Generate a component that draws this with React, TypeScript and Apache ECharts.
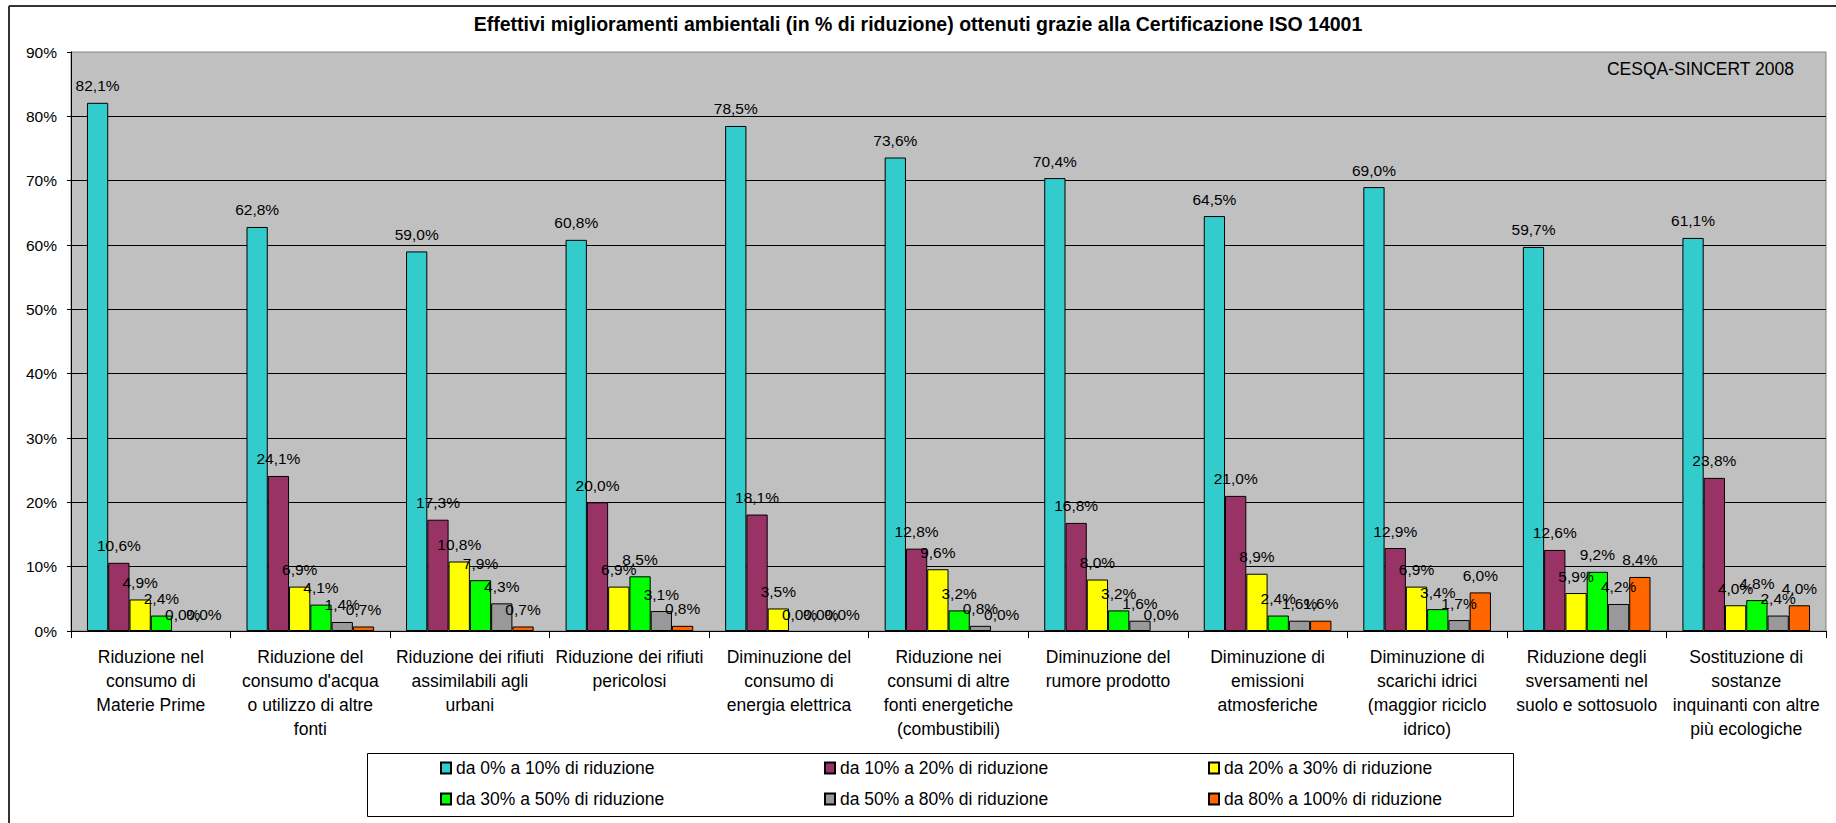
import React, { useEffect, useRef } from 'react';
import * as echarts from 'echarts';

const FONT = '"Liberation Sans", Arial, Helvetica, sans-serif';

const titleText =
  'Effettivi miglioramenti ambientali (in % di riduzione) ottenuti grazie alla Certificazione ISO 14001';
const sourceText = 'CESQA-SINCERT 2008';

const categories = [
  'Riduzione nel\nconsumo di\nMaterie Prime',
  "Riduzione del\nconsumo d'acqua\no utilizzo di altre\nfonti",
  'Riduzione dei rifiuti\nassimilabili agli\nurbani',
  'Riduzione dei rifiuti\npericolosi',
  'Diminuzione del\nconsumo di\nenergia elettrica',
  'Riduzione nei\nconsumi di altre\nfonti energetiche\n(combustibili)',
  'Diminuzione del\nrumore prodotto',
  'Diminuzione di\nemissioni\natmosferiche',
  'Diminuzione di\nscarichi idrici\n(maggior riciclo\nidrico)',
  'Riduzione degli\nsversamenti nel\nsuolo e sottosuolo',
  'Sostituzione di\nsostanze\ninquinanti con altre\npiù ecologiche',
];

const seriesNames = [
  'da 0% a 10% di riduzione',
  'da 10% a 20% di riduzione',
  'da 20% a 30% di riduzione',
  'da 30% a 50% di riduzione',
  'da 50% a 80% di riduzione',
  'da 80% a 100% di riduzione',
];

const rid0to10 = [82.1, 62.8, 59.0, 60.8, 78.5, 73.6, 70.4, 64.5, 69.0, 59.7, 61.1];
const rid10to20 = [10.6, 24.1, 17.3, 20.0, 18.1, 12.8, 16.8, 21.0, 12.9, 12.6, 23.8];
const rid20to30 = [4.9, 6.9, 10.8, 6.9, 3.5, 9.6, 8.0, 8.9, 6.9, 5.9, 4.0];
const rid30to50 = [2.4, 4.1, 7.9, 8.5, 0.0, 3.2, 3.2, 2.4, 3.4, 9.2, 4.8];
const rid50to80 = [0.0, 1.4, 4.3, 3.1, 0.0, 0.8, 1.6, 1.6, 1.7, 4.2, 2.4];
const rid80to100 = [0.0, 0.7, 0.7, 0.8, 0.0, 0.0, 0.0, 1.6, 6.0, 8.4, 4.0];

const seriesValues = [rid0to10, rid10to20, rid20to30, rid30to50, rid50to80, rid80to100];
const seriesColors = ['#33CCCC', '#993366', '#FFFF00', '#00FF00', '#999999', '#FF6600'];

const fmt = (v: number) => v.toFixed(1).replace('.', ',') + '%';

export default function App() {
  const ref = useRef<HTMLDivElement>(null);

  useEffect(() => {
    document.body.style.margin = '0';
    const chart = echarts.init(ref.current!, null, { renderer: 'svg' });

    const legendCommon = {
      left: 440,
      padding: 0,
      itemWidth: 10,
      itemHeight: 11,
      itemGap: 138,
      icon: 'rect',
      orient: 'horizontal',
      selectedMode: false,
      z: 10,
      textStyle: {
        fontSize: 17.5,
        fontFamily: FONT,
        color: '#000',
        width: 230,
        lineHeight: 20,
      },
    };

    chart.setOption({
      animation: false,
      backgroundColor: '#ffffff',
      title: {
        text: titleText,
        left: 'center',
        top: 14,
        padding: 0,
        textStyle: {
          fontSize: 19.5,
          fontWeight: 'bold',
          fontFamily: FONT,
          color: '#000',
          lineHeight: 20,
        },
      },
      legend: [
        { ...legendCommon, top: 758, data: seriesNames.slice(0, 3) },
        { ...legendCommon, top: 789, data: seriesNames.slice(3, 6) },
      ],
      grid: {
        left: 71,
        right: 10,
        top: 52,
        bottom: 192,
        show: true,
        backgroundColor: '#C0C0C0',
        borderColor: '#808080',
        borderWidth: 1,
        containLabel: false,
        outerBoundsMode: 'none',
      },
      xAxis: {
        type: 'category',
        data: categories,
        axisLine: { show: true, lineStyle: { color: '#000', width: 1 } },
        axisTick: { show: true, length: 7, lineStyle: { color: '#000' } },
        axisLabel: {
          interval: 0,
          margin: 14,
          fontSize: 17.5,
          lineHeight: 24,
          color: '#000',
          fontFamily: FONT,
        },
        splitLine: { show: false },
      },
      yAxis: {
        type: 'value',
        min: 0,
        max: 90,
        interval: 10,
        axisLine: { show: true, lineStyle: { color: '#000', width: 1 } },
        axisTick: { show: true, length: 4, lineStyle: { color: '#000' } },
        axisLabel: {
          formatter: '{value}%',
          margin: 14,
          fontSize: 15.5,
          color: '#000',
          fontFamily: FONT,
        },
        splitLine: {
          show: true,
          showMaxLine: false,
          lineStyle: { color: '#000', width: 1 },
        },
      },
      graphic: [
        {
          type: 'line',
          shape: { x1: 9, y1: 6, x2: 1836, y2: 6 },
          style: { stroke: '#333', lineWidth: 2 },
        },
        {
          type: 'line',
          shape: { x1: 9, y1: 6, x2: 9, y2: 823 },
          style: { stroke: '#333', lineWidth: 2 },
        },
        {
          type: 'rect',
          z: 0,
          shape: { x: 367.5, y: 753.5, width: 1146, height: 63 },
          style: { fill: '#fff', stroke: '#000', lineWidth: 1 },
        },
        {
          type: 'text',
          x: 1794,
          y: 69,
          z: 5,
          style: {
            text: sourceText,
            fontSize: 17.5,
            fontFamily: FONT,
            fill: '#000',
            align: 'right',
            verticalAlign: 'middle',
          },
        },
      ],
      series: seriesValues.map((values, i) => ({
        name: seriesNames[i],
        type: 'bar',
        barGap: '0%',
        barCategoryGap: '20%',
        data: values.map((v) => (v === 0 ? { value: v, itemStyle: { borderWidth: 0 } } : v)),
        itemStyle: { color: seriesColors[i], borderColor: '#000', borderWidth: 1 },
        label: {
          show: true,
          position: 'top',
          distance: 9,
          fontSize: 15.5,
          fontFamily: FONT,
          color: '#000',
          formatter: (p: any) => fmt(p.value),
        },
      })),
    });

    return () => chart.dispose();
  }, []);

  return (
    <div
      ref={ref}
      style={{ position: 'absolute', left: 0, top: 0, width: 1836, height: 823, background: '#fff' }}
    />
  );
}
